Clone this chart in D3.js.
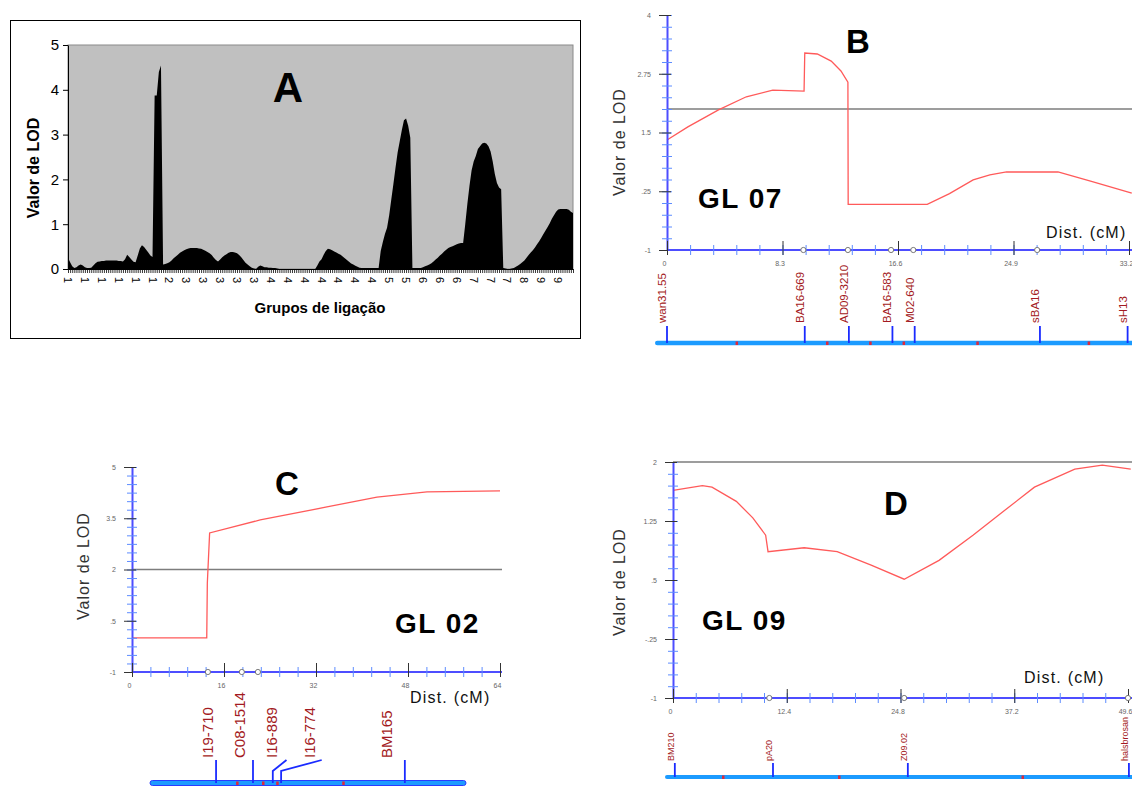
<!DOCTYPE html>
<html>
<head>
<meta charset="utf-8">
<script src="https://cdn.jsdelivr.net/npm/d3@7"></script>
<style>
  body { margin: 0; background: #fff; }
  svg { display: block; }
  text { font-family: "Liberation Sans", Arial, sans-serif; }
</style>
</head>
<body>
<svg id="fig" width="1132" height="787"></svg>
<script>
// ---- data ----

// panel A: genome-wide LOD, one row per 8 positions, labelled by linkage group
const groupLabels = ['1','1','1','1','1','1','2','3','3','3','3','3','4','4','4','4','4','4','4','5','5','6','6','6','7','7','7','8','9','9'];
const genomeLod = [
  0.25,0.15,0.06,0.02,0.04,0.08,0.10,0.08,
  0.04,0.02,0.02,0.03,0.08,0.13,0.16,0.17,
  0.18,0.18,0.19,0.19,0.19,0.19,0.19,0.19,
  0.18,0.18,0.17,0.22,0.32,0.27,0.21,0.16,
  0.15,0.30,0.46,0.53,0.49,0.43,0.37,0.30,
  0.27,3.87,3.87,4.40,4.54,0.10,0.11,0.13,
  0.15,0.19,0.24,0.28,0.32,0.36,0.39,0.42,
  0.44,0.46,0.47,0.47,0.47,0.47,0.46,0.45,
  0.43,0.41,0.38,0.35,0.31,0.25,0.20,0.17,
  0.21,0.26,0.30,0.33,0.36,0.38,0.38,0.37,
  0.35,0.31,0.26,0.20,0.14,0.10,0.06,0.03,
  0.01,0.00,0.05,0.08,0.06,0.04,0.04,0.03,
  0.03,0.02,0.02,0.01,0.00,0.00,0.00,0.00,
  0.00,0.00,0.00,0.00,0.00,0.00,0.00,0.00,
  0.00,0.00,0.00,0.00,0.00,0.00,0.08,0.17,
  0.22,0.32,0.40,0.45,0.44,0.42,0.39,0.37,
  0.34,0.32,0.28,0.24,0.20,0.16,0.12,0.10,
  0.07,0.05,0.03,0.02,0.02,0.02,0.02,0.02,
  0.02,0.02,0.02,0.02,0.40,0.60,0.78,0.92,
  1.20,1.55,1.90,2.26,2.60,2.85,3.10,3.32,
  3.36,3.20,2.93,0.02,0.02,0.02,0.02,0.02,
  0.04,0.06,0.08,0.10,0.13,0.17,0.21,0.25,
  0.30,0.34,0.39,0.43,0.47,0.49,0.51,0.53,
  0.55,0.57,0.58,0.58,1.00,1.45,1.85,2.20,
  2.40,2.52,2.68,2.74,2.80,2.82,2.80,2.74,
  2.62,2.40,2.12,1.92,1.82,1.78,0.02,0.01,
  0.00,0.00,0.01,0.02,0.05,0.08,0.11,0.15,
  0.19,0.25,0.31,0.37,0.42,0.48,0.55,0.62,
  0.70,0.78,0.86,0.94,1.02,1.12,1.20,1.28,
  1.33,1.34,1.34,1.34,1.34,1.32,1.28,1.25
];

// panel B: GL 07
const gl07Dist = [0, 1.5, 3.7, 5.7, 7.6, 9.85, 9.9, 10.8, 11.8, 12.5, 13.0, 13.02, 18.7, 20.3, 22.0, 23.2, 24.4, 28.1, 30.5, 33.4];
const gl07Lod  = [1.34, 1.62, 1.98, 2.26, 2.40, 2.38, 3.19, 3.17, 3.02, 2.81, 2.57, -0.03, -0.03, 0.20, 0.49, 0.60, 0.66, 0.66, 0.46, 0.21];
const gl07XTicks = [0, 8.3, 16.6, 24.9, 33.2];
const gl07YTicks = [4, 2.75, 1.5, 0.25, -1];
const gl07YLabels = ['4', '2.75', '1.5', '.25', '-1'];
const gl07Circles = [9.8, 13.0, 16.1, 17.7, 26.6];
const gl07Markers = ['wan31.55', 'BA16-669', 'AD09-3210', 'BA16-583', 'M02-640', 'sBA16', 'sH13'];
const gl07MarkerPos = [0, 9.9, 13.07, 16.2, 17.8, 26.8, 33.1];
const gl07RedTicks = [5.0, 11.5, 14.6, 17.0, 22.3, 30.3];

// panel C: GL 02
const gl02Dist = [0, 13.0, 13.1, 13.5, 22.3, 33.9, 42.6, 51.3, 64];
const gl02Lod  = [0.0, 0.0, 1.6, 3.07, 3.45, 3.83, 4.12, 4.27, 4.30];
const gl02XTicks = [0, 16, 32, 48, 64];
const gl02YTicks = [5, 3.5, 2, 0.5, -1];
const gl02YLabels = ['5', '3.5', '2', '.5', '-1'];
const gl02Circles = [13.2, 19.1, 21.9];
const gl02Markers = ['I19-710', 'C08-1514', 'I16-889', 'I16-774', 'BM165'];
const gl02MarkerPos = [13.1, 20.65, 24.7, 26.4, 51.7];
const gl02LineTop = [13.1, 20.65, 27.5, 34.7, 51.7];
const gl02TextPos = [12.5, 19.0, 25.6, 33.3, 49.1];
const gl02RedTicks = [17.4, 22.7, 25.6, 39.1];

// panel D: GL 09
const gl09Dist = [0, 3.2, 4.25, 6.9, 8.7, 10.1, 10.36, 14.3, 17.9, 21.6, 25.2, 29.0, 32.7, 36.1, 39.4, 43.8, 46.8, 49.9];
const gl09Lod  = [1.64, 1.70, 1.68, 1.50, 1.29, 1.07, 0.86, 0.91, 0.86, 0.69, 0.51, 0.75, 1.07, 1.38, 1.68, 1.91, 1.96, 1.91];
const gl09XTicks = [0, 12.4, 24.8, 37.2, 49.6];
const gl09YTicks = [2, 1.25, 0.5, -0.25, -1];
const gl09YLabels = ['2', '1.25', '.5', '-.25', '-1'];
const gl09Circles = [10.5, 25.2, 49.6];
const gl09Markers = ['BM210', 'pA20', 'Z09.02', 'halsbrosan'];
const gl09MarkerPos = [0.2, 10.9, 25.6, 49.7];
const gl09RedTicks = [5.45, 18.1, 38.1];

const svg = d3.select('#fig');
const W = 1132;

// ---- panel A (Excel style area chart) ----
{
  const g = svg.append('g');
  g.append('rect').attr('x', 10.5).attr('y', 20.5).attr('width', 570).attr('height', 318)
    .attr('fill', '#fff').attr('stroke', '#000');

  const x = d3.scalePoint().domain(d3.range(genomeLod.length)).range([68, 573]);
  const y = d3.scaleLinear().domain([0, 5]).range([269, 45]);

  g.append('rect').attr('x', 68).attr('y', 45).attr('width', 505).attr('height', 224)
    .attr('fill', '#c0c0c0').attr('stroke', '#8a8a8a');

  g.append('path').datum(genomeLod)
    .attr('fill', '#000')
    .attr('d', d3.area().x((d, i) => x(i)).y0(y(0)).y1(d => y(d)));

  const yAx = g.append('g').attr('transform', 'translate(68,0)')
    .call(d3.axisLeft(y).ticks(5).tickSize(5).tickPadding(4).tickSizeOuter(0));
  yAx.selectAll('text').attr('font-size', 15)
    .attr('font-family', '"Liberation Sans Narrow", "Liberation Sans", Arial, sans-serif').attr('fill', '#000');

  const xAx = g.append('g').attr('transform', 'translate(0,269)')
    .call(d3.axisBottom(x).tickSize(4).tickSizeOuter(0).tickFormat(''));
  xAx.selectAll('.tick line').attr('stroke-width', 0.8);

  g.selectAll('text.grp').data(groupLabels).join('text')
    .attr('class', 'grp')
    .attr('transform', (d, i) => `translate(${x(i * 8) - 4},277) rotate(90)`)
    .attr('font-size', 11).text(d => d);

  g.append('text').attr('transform', 'translate(39,168) rotate(-90)')
    .attr('text-anchor', 'middle').attr('font-size', 16).attr('font-weight', 'bold')
    .attr('font-family', '"Liberation Sans Narrow", "Liberation Sans", Arial, sans-serif')
    .text('Valor de LOD');
  g.append('text').attr('x', 320).attr('y', 313).attr('text-anchor', 'middle')
    .attr('font-size', 15).attr('font-weight', 'bold')
    .attr('font-family', '"Liberation Sans Narrow", "Liberation Sans", Arial, sans-serif')
    .text('Grupos de ligação');
  g.append('text').attr('x', 288).attr('y', 102).attr('text-anchor', 'middle')
    .attr('font-size', 42).attr('font-weight', 'bold').text('A');
}

// ---- LOD profile panels (B, C, D) ----
function lodPanel(p) {
  const g = svg.append('g');
  const x = d3.scaleLinear().domain([0, p.xTicks[p.xTicks.length - 1]]).range([p.left, p.right]);
  const y = d3.scaleLinear().domain([p.yTicks[p.yTicks.length - 1], p.yTicks[0]]).range([p.bottom, p.top]);

  // threshold
  g.append('line').attr('x1', p.left).attr('x2', p.end)
    .attr('y1', y(p.threshold)).attr('y2', y(p.threshold))
    .attr('stroke', '#7d7d7d').attr('stroke-width', 1.3);

  // LOD curve
  g.append('path').datum(p.dist.map((d, i) => [d, p.lod[i]]))
    .attr('fill', 'none').attr('stroke', '#ff5a5a').attr('stroke-width', 1.3)
    .attr('d', d3.line().x(d => x(d[0])).y(d => y(d[1])));

  // y axis: light minor ticks, then dark major ticks with labels
  const [y0, y1] = y.domain();
  const yMinor = d3.range(Math.round((y1 - y0) / p.yStep) + 1).map(k => y0 + k * p.yStep);
  const yMin = g.append('g').attr('transform', `translate(${p.left},0)`)
    .call(d3.axisLeft(y).tickValues(yMinor).tickFormat('').tickSizeOuter(0));
  yMin.selectAll('.tick line').attr('x1', 5).attr('x2', -5).attr('stroke', '#5d8cff');
  yMin.select('.domain').attr('stroke', '#4d4dff').attr('stroke-width', 2);
  const yMaj = g.append('g').attr('transform', `translate(${p.left},0)`)
    .call(d3.axisLeft(y).tickValues(p.yTicks).tickFormat((d, i) => p.yLabels[i]).tickSize(8).tickPadding(8));
  yMaj.select('.domain').remove();
  yMaj.selectAll('.tick line').attr('x1', 4).attr('stroke', '#333');
  yMaj.selectAll('text').attr('font-size', 7).attr('fill', '#666');

  // x axis
  const xStep = p.xTicks[1] / 5;
  const xMinor = d3.range(Math.round(x.domain()[1] / xStep) + 1).map(k => k * xStep);
  const xMin = g.append('g').attr('transform', `translate(0,${p.bottom})`)
    .call(d3.axisBottom(x).tickValues(xMinor).tickFormat('').tickSizeOuter(0));
  xMin.selectAll('.tick line').attr('y1', -5).attr('y2', 5).attr('stroke', '#5d8cff');
  xMin.select('.domain').attr('stroke', '#4d4dff').attr('stroke-width', 2).attr('d', `M${p.left},0H${p.end}`);
  const xMaj = g.append('g').attr('transform', `translate(0,${p.bottom})`)
    .call(d3.axisBottom(x).tickValues(p.xTicks).tickFormat(d => d3.format('.3~f')(d)).tickSize(5).tickPadding(6));
  xMaj.select('.domain').remove();
  xMaj.selectAll('.tick line').attr('y1', -9).attr('stroke', '#333');
  xMaj.selectAll('text').attr('font-size', 7).attr('fill', '#666').attr('dx', -3);

  g.selectAll('circle.mk').data(p.circles).join('circle')
    .attr('class', 'mk').attr('cx', d => x(d)).attr('cy', p.bottom).attr('r', 2.6)
    .attr('fill', '#fff').attr('stroke', '#777').attr('stroke-width', 1);

  // texts
  g.append('text').attr('x', p.letter[0]).attr('y', p.letter[1]).attr('text-anchor', 'middle')
    .attr('font-size', 33).attr('font-weight', 'bold').text(p.letter[2]);
  g.append('text').attr('x', p.gl[0]).attr('y', p.gl[1])
    .attr('font-size', 28).attr('font-weight', 'bold').attr('letter-spacing', 1.5).text(p.gl[2]);
  g.append('text').attr('x', p.distAt[0]).attr('y', p.distAt[1])
    .attr('font-size', 16).attr('letter-spacing', 1.2).attr('fill', '#111').text('Dist. (cM)');
  g.append('text').attr('transform', `translate(${p.valorAt[0]},${p.valorAt[1]}) rotate(-90)`)
    .attr('text-anchor', 'middle').attr('font-size', 16).attr('letter-spacing', 1)
    .attr('fill', '#333').text('Valor de LOD');
  return x;
}

// ---- marker map strip under each profile ----
function markerMap(m) {
  const g = svg.append('g');
  const x = m.x;
  g.append('rect').attr('x', m.barLeft).attr('y', m.barY - m.barH / 2)
    .attr('width', m.barRight - m.barLeft).attr('height', m.barH)
    .attr('rx', m.barH / 2)
    .attr('fill', '#1c9bff').attr('stroke', m.outline ? '#2a3cff' : 'none');
  g.selectAll('rect.rt').data(m.redTicks).join('rect')
    .attr('class', 'rt').attr('x', d => x(d) - 1).attr('y', m.barY - 1.5)
    .attr('width', 2.5).attr('height', 3.5).attr('fill', '#e0283a');
  g.selectAll('path.ml').data(m.pos).join('path')
    .attr('class', 'ml').attr('fill', 'none').attr('stroke', '#1a2bff').attr('stroke-width', 1.8)
    .attr('d', (d, i) => {
      const top = m.lineTop ? m.lineTop[i] : d;
      if (top === d) return `M${x(d)},${m.barY}V${m.lineY}`;
      return `M${x(d)},${m.barY}V${m.bendY}L${x(top)},${m.lineY}`;
    });
  g.selectAll('text.ml').data(m.names).join('text')
    .attr('class', 'ml')
    .attr('transform', (d, i) => {
      const tx = m.textPos ? x(m.textPos[i]) : x(m.pos[i]) - 1;
      return `translate(${tx},${m.textY}) rotate(-90)`;
    })
    .attr('font-size', m.fontSize).attr('fill', '#a31a22').text(d => d);
}

const xB = lodPanel({
  left: 667, right: 1129, top: 15, bottom: 250, end: W,
  xTicks: gl07XTicks, yTicks: gl07YTicks, yLabels: gl07YLabels, yStep: 0.25,
  dist: gl07Dist, lod: gl07Lod, threshold: 2, circles: gl07Circles,
  letter: [858, 53, 'B'], gl: [698, 208, 'GL 07'], distAt: [1046, 238], valorAt: [625, 142]
});
markerMap({
  x: xB, barLeft: 655, barRight: W + 4, barY: 343, barH: 4.5, outline: false,
  redTicks: gl07RedTicks, pos: gl07MarkerPos, names: gl07Markers,
  lineY: 326, textY: 323, fontSize: 11.5
});

const xC = lodPanel({
  left: 132, right: 500, top: 467, bottom: 672, end: 502,
  xTicks: gl02XTicks, yTicks: gl02YTicks, yLabels: gl02YLabels, yStep: 0.25,
  dist: gl02Dist, lod: gl02Lod, threshold: 2, circles: gl02Circles,
  letter: [287, 495, 'C'], gl: [395, 633, 'GL 02'], distAt: [410, 703], valorAt: [89, 566]
});
markerMap({
  x: d3.scaleLinear().domain([0, 64]).range([152, 465]),
  barLeft: 150, barRight: 466, barY: 783, barH: 5, outline: true,
  redTicks: gl02RedTicks, pos: gl02MarkerPos, lineTop: gl02LineTop, textPos: gl02TextPos,
  names: gl02Markers, lineY: 760, bendY: 771, textY: 758, fontSize: 15
});

const xD = lodPanel({
  left: 673, right: 1128, top: 462, bottom: 698, end: W,
  xTicks: gl09XTicks, yTicks: gl09YTicks, yLabels: gl09YLabels, yStep: 0.15,
  dist: gl09Dist, lod: gl09Lod, threshold: 2, circles: gl09Circles,
  letter: [896, 515, 'D'], gl: [702, 630, 'GL 09'], distAt: [1024, 683], valorAt: [625, 582]
});
markerMap({
  x: xD, barLeft: 665, barRight: W + 4, barY: 777, barH: 4, outline: false,
  redTicks: gl09RedTicks, pos: gl09MarkerPos, names: gl09Markers,
  lineY: 763, textY: 761, fontSize: 9
});
</script>
</body>
</html>
